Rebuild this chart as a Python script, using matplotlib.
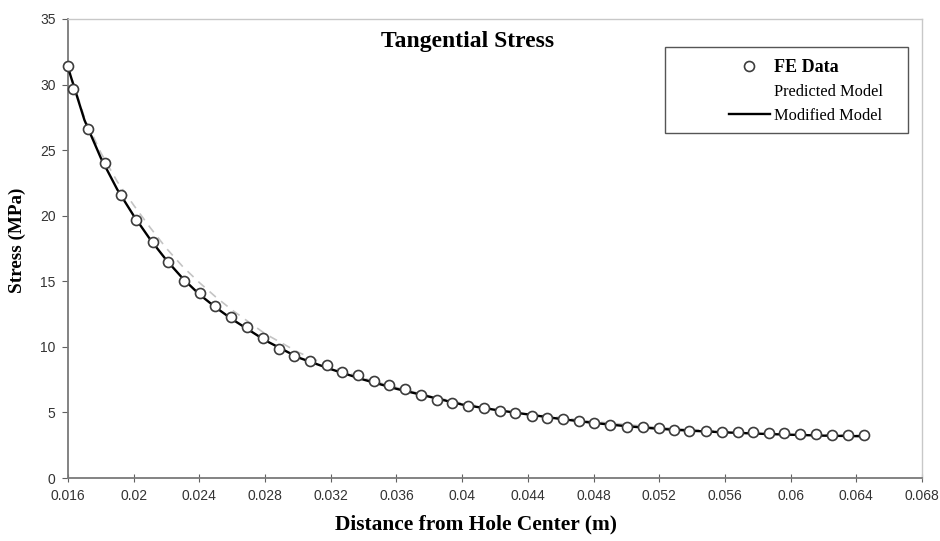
import matplotlib
matplotlib.use("Agg")
import matplotlib.pyplot as plt
from matplotlib.patches import Rectangle

# FE data
fe_x = [0.0160, 0.01632, 0.01724, 0.01827, 0.01923, 0.02016, 0.02116, 0.02207,
        0.02305, 0.02404, 0.02497, 0.02593, 0.02690, 0.02787, 0.02883, 0.02978,
        0.03075, 0.03175, 0.03270, 0.03368, 0.03461, 0.03556, 0.03652, 0.03749,
        0.03847, 0.03938, 0.04037, 0.04135, 0.04230, 0.04324, 0.04423, 0.04517,
        0.04616, 0.04713, 0.04805, 0.04903, 0.05002, 0.05099, 0.05197, 0.05288,
        0.05383, 0.05485, 0.05582, 0.05678, 0.05769, 0.05867, 0.05962, 0.06059,
        0.06155, 0.06252, 0.06348, 0.06449]
fe_y = [31.4, 29.7, 26.6, 24.0, 21.6, 19.7, 18.0, 16.5, 15.0, 14.1, 13.1, 12.3,
        11.5, 10.7, 9.8, 9.3, 8.9, 8.6, 8.1, 7.85, 7.4, 7.1, 6.8, 6.35, 5.95, 5.7,
        5.52, 5.36, 5.13, 4.93, 4.75, 4.6, 4.5, 4.37, 4.2, 4.07, 3.92, 3.87, 3.79,
        3.66, 3.61, 3.59, 3.53, 3.5, 3.48, 3.46, 3.41, 3.36, 3.33, 3.28, 3.27, 3.26]

# predicted model (light dashed)
pred_x = [0.016, 0.017, 0.018, 0.019, 0.020, 0.021, 0.022, 0.023, 0.024, 0.025,
          0.026, 0.027, 0.028, 0.030, 0.032, 0.034, 0.036, 0.038, 0.040, 0.044,
          0.048, 0.052, 0.056, 0.060, 0.0645]
pred_y = [31.4, 27.5, 24.8, 22.6, 20.8, 19.1, 17.5, 16.1, 14.9, 13.8, 12.8, 11.9,
          11.0, 9.6, 8.5, 7.6, 6.9, 6.25, 5.7, 4.9, 4.3, 3.85, 3.55, 3.35, 3.25]

# modified model (solid black)
mod_x = [0.016, 0.017, 0.018, 0.019, 0.020, 0.021, 0.022, 0.023, 0.024, 0.025,
         0.026, 0.027, 0.028, 0.030, 0.032, 0.034, 0.036, 0.038, 0.040, 0.042,
         0.044, 0.046, 0.048, 0.050, 0.052, 0.054, 0.056, 0.058, 0.060, 0.062, 0.0645]
mod_y = [31.3, 27.3, 24.4, 22.0, 20.0, 18.2, 16.6, 15.2, 14.0, 13.0, 12.1, 11.3,
         10.5, 9.2, 8.3, 7.5, 6.8, 6.2, 5.6, 5.2, 4.85, 4.5, 4.2, 3.95, 3.75, 3.6,
         3.48, 3.38, 3.3, 3.23, 3.18]

xticks = [0.016, 0.02, 0.024, 0.028, 0.032, 0.036, 0.04, 0.044, 0.048, 0.052,
          0.056, 0.06, 0.064, 0.068]
xtick_labels = ["0.016", "0.02", "0.024", "0.028", "0.032", "0.036", "0.04",
                "0.044", "0.048", "0.052", "0.056", "0.06", "0.064", "0.068"]
yticks = [0, 5, 10, 15, 20, 25, 30, 35]

serif = "Liberation Serif"
sans = "Liberation Sans"

fig = plt.figure(figsize=(9.4, 5.41), dpi=100)
ax = fig.add_axes([68/940, 1-478/541, (922-68)/940, (478-19)/541])

l_pred, = ax.plot(pred_x, pred_y, '--', color='#c4c4c4', lw=1.2, dashes=(5, 4),
                  label="Predicted Model", zorder=2)
l_mod, = ax.plot(mod_x, mod_y, '-', color='black', lw=1.7,
                 label="Modified Model", zorder=3)
l_fe, = ax.plot(fe_x, fe_y, 'o', ms=7.2, mfc='white', mec='#3c3c3c', mew=1.2,
                label="FE Data", zorder=4, clip_on=False)

ax.set_xlim(0.016, 0.068)
ax.set_ylim(0, 35)
ax.set_xticks(xticks)
ax.set_xticklabels(xtick_labels)
ax.set_yticks(yticks)
ax.tick_params(axis='x', direction='inout', length=6, color='#606060',
               labelsize=10, labelcolor='#333333', pad=5)
ax.tick_params(axis='y', direction='out', length=4, color='#606060',
               labelsize=10, labelcolor='#333333', pad=5)
for lab in ax.get_xticklabels() + ax.get_yticklabels():
    lab.set_fontfamily(sans)

for s in ['left', 'bottom']:
    ax.spines[s].set_color('#7a7a7a')
    ax.spines[s].set_linewidth(1.3)
for s in ['top', 'right']:
    ax.spines[s].set_color('#c8c8c8')
    ax.spines[s].set_linewidth(1.0)

# axis titles placed where they sit in the original
fig.text(476/940, 1-524/541, "Distance from Hole Center (m)", fontfamily=serif,
         fontweight='bold', fontsize=15.4, ha='center', va='center')
fig.text(17/940, 1-240/541, "Stress (MPa)", fontfamily=serif, fontweight='bold',
         fontsize=13.8, ha='center', va='center', rotation=90)

fig.text(468/940, 1-42/541, "Tangential Stress", fontfamily=serif,
         fontweight='bold', fontsize=17, ha='center', va='center')

# legend box (Excel style, wide frame)
fig.patches.append(Rectangle((665/940, 1-133/541), (908-665)/940, (133-47)/541,
                             transform=fig.transFigure, fill=False,
                             edgecolor='#555555', lw=1.0))
leg = ax.legend([l_fe, l_pred, l_mod], ["FE Data", "Predicted Model", "Modified Model"],
                loc='upper left', bbox_to_anchor=(722/940, 1-52/541),
                bbox_transform=fig.transFigure, frameon=False,
                handlelength=2.55, handletextpad=0.25, labelspacing=0.5,
                prop={'family': serif, 'size': 11.8}, borderaxespad=0)
leg.legend_handles[1].set_visible(False)
t0 = leg.get_texts()[0]
t0.set_fontweight('bold')
t0.set_fontsize(13)

fig.savefig("out.png", dpi=100)
